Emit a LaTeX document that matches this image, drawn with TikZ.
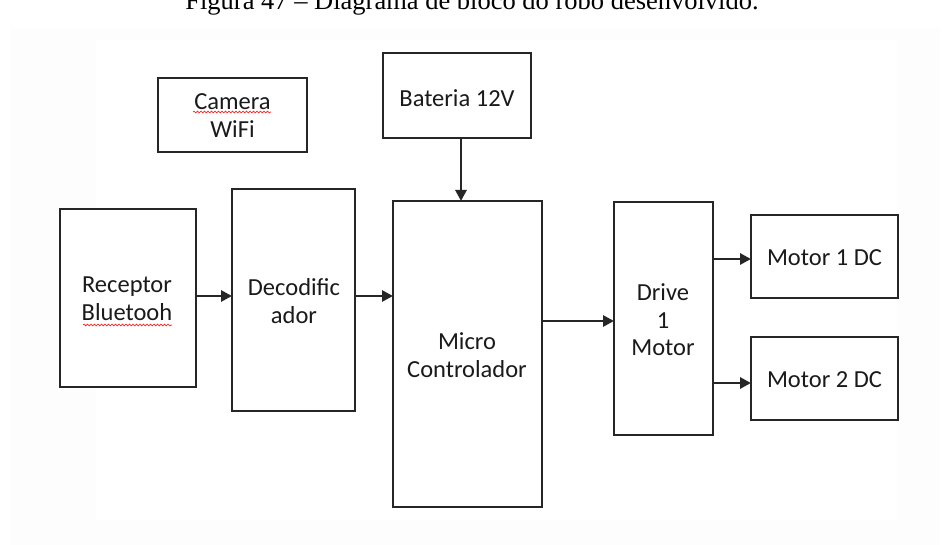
\documentclass[tikz,border=0pt]{standalone}
\usepackage{fontspec}
\setmainfont{Carlito}
\newfontfamily\capfont{Liberation Serif}
\usetikzlibrary{arrows.meta,decorations.pathmorphing}
\definecolor{boxline}{HTML}{262626}
\definecolor{txt}{HTML}{1A1A1A}
\tikzset{
  blk/.style={draw=boxline, line width=1.6pt, fill=white, inner sep=0pt},
  lbl/.style={text=txt, font=\fontsize{24.5}{28}\selectfont, align=center},
  conn/.style={draw=boxline, line width=2.8pt, -{Triangle[length=11pt,width=11pt]}},
  spell/.style={draw=red!85, line width=0.7pt, decorate, decoration={snake, amplitude=0.9pt, segment length=3.5pt}}
}
\begin{document}
\begin{tikzpicture}[x=1pt,y=-1pt]
\useasboundingbox (0,0) rectangle (945,545);
\clip (0,0) rectangle (945,545);
\fill[white] (0,0) rectangle (945,545);
\fill[black!0.8] (10,28) rectangle (940,545);
\fill[white] (96,40) rectangle (897,520);
\node[font=\capfont\fontsize{26.5}{30}\selectfont, anchor=base, text=black] (cap) at (472,10) {Figura 47 – Diagrama de bloco do robô desenvolvido.};
% boxes
\path[blk] (158,78) rectangle (307,152);
\node[lbl] (cam) at (232.5,116) {Camera\\WiFi};
\path[blk] (383,53) rectangle (531,138);
\node[lbl] (bat) at (457,98) {Bateria 12V};
\coordinate (batb) at (461,138);
\path[blk] (60,209) rectangle (196,387);
\node[lbl] (rec) at (127,299) {Receptor\\Bluetooh};
\path[blk] (232,189) rectangle (355,411);
\node[lbl] (dec) at (294,301) {Decodific\\ador};
\path[blk] (393,201) rectangle (542,507);
\node[lbl] (mic) at (467,355) {Micro\\Controlador};
\path[blk] (614,202) rectangle (713,435);
\node[lbl, font=\fontsize{24.5}{27.5}\selectfont] (drv) at (663,320) {Drive\\1\\Motor};
\path[blk] (751,215) rectangle (898,298);
\node[lbl] (m1) at (824.5,258) {Motor 1 DC};
\path[blk] (751,337) rectangle (898,420);
\node[lbl] (m2) at (824.5,380) {Motor 2 DC};
% spell-check underlines
\draw[spell] (193,112) -- (271,112);
\draw[spell] (83,325) -- (172,325);
% connector endpoints
\coordinate (recR) at (196,296);
\coordinate (decL) at (232,296);
\coordinate (decR) at (355,296);
\coordinate (micL) at (393,296);
\coordinate (micT) at (461,201);
\coordinate (micR) at (542,321);
\coordinate (drvL) at (614,321);
\coordinate (drvR1) at (713,259);
\coordinate (m1L) at (751,259);
\coordinate (drvR2) at (713,383);
\coordinate (m2L) at (751,383);
\draw[conn] (recR) -- (decL);
\draw[conn] (decR) -- (micL);
\draw[conn] (batb) -- (micT);
\draw[conn] (micR) -- (drvL);
\draw[conn] (drvR1) -- (m1L);
\draw[conn] (drvR2) -- (m2L);
\end{tikzpicture}
\end{document}
